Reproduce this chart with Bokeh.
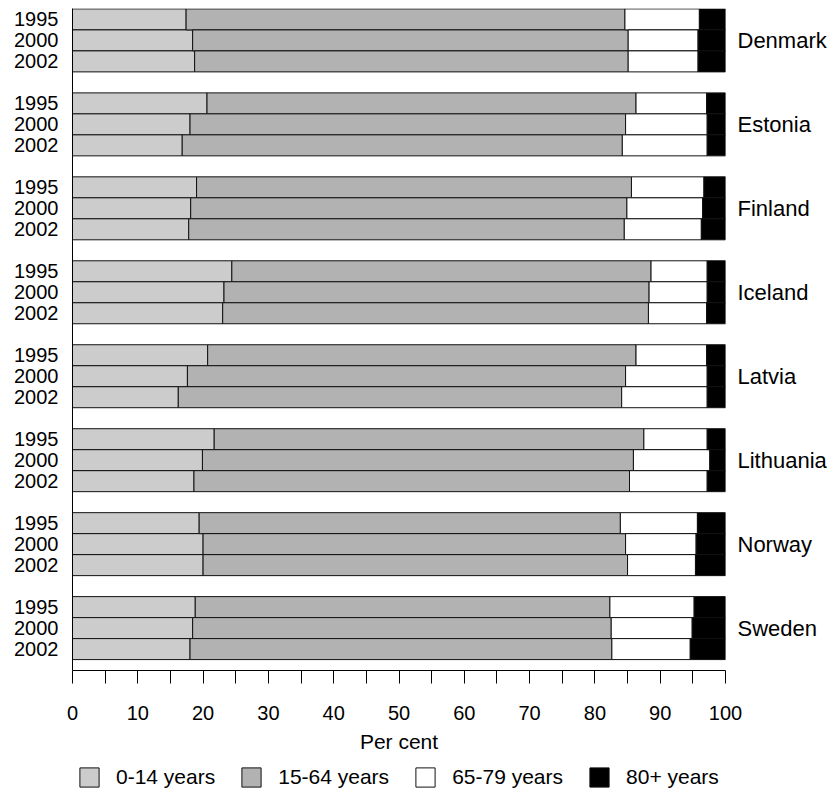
from bokeh.plotting import figure
from bokeh.layouts import column
from bokeh.models import Range1d, LinearAxis, FixedTicker, Legend, LegendItem, ColumnDataSource
from bokeh.embed import file_html
from bokeh.resources import INLINE

countries = ["Denmark", "Estonia", "Finland", "Iceland", "Latvia", "Lithuania", "Norway", "Sweden"]
years = ["1995", "2000", "2002"]
age_groups = ["0-14 years", "15-64 years", "65-79 years", "80+ years"]
colors = ["#cccccc", "#b2b2b2", "#ffffff", "#000000"]

# Per cent of population, ordered country by country, years 1995, 2000, 2002
age_0_14 = [17.4, 18.4, 18.7,
            20.6, 18.0, 16.8,
            19.0, 18.1, 17.8,
            24.4, 23.2, 23.0,
            20.7, 17.6, 16.2,
            21.7, 19.9, 18.6,
            19.4, 20.0, 20.0,
            18.8, 18.4, 18.0]
age_15_64 = [67.2, 66.7, 66.4,
             65.7, 66.7, 67.4,
             66.6, 66.8, 66.7,
             64.2, 65.1, 65.2,
             65.6, 67.1, 67.9,
             65.8, 66.0, 66.7,
             64.5, 64.7, 65.0,
             63.5, 64.1, 64.6]
age_65_79 = [11.4, 10.7, 10.7,
             10.8, 12.5, 13.0,
             11.1, 11.6, 11.8,
             8.6, 8.9, 8.9,
             10.8, 12.5, 13.1,
             9.7, 11.7, 11.9,
             11.8, 10.8, 10.4,
             12.9, 12.4, 12.0]
age_80_plus = [4.0, 4.2, 4.2,
               2.9, 2.8, 2.8,
               3.3, 3.5, 3.7,
               2.8, 2.8, 2.9,
               2.9, 2.8, 2.8,
               2.8, 2.4, 2.8,
               4.3, 4.5, 4.6,
               4.8, 5.1, 5.4]

x_ticks = [0, 10, 20, 30, 40, 50, 60, 70, 80, 90, 100]
x_minor_ticks = [5, 15, 25, 35, 45, 55, 65, 75, 85, 95]

FONT = "Liberation Sans"

# slot positions: 3 bars per country plus one empty slot
ypos = []
year_labels = {}
country_labels = {}
for ci, c in enumerate(countries):
    for yi, yr in enumerate(years):
        pos = ci * 4 + yi
        ypos.append(pos)
        year_labels[pos] = yr
    country_labels[ci * 4 + 1] = c

series = [age_0_14, age_15_64, age_65_79, age_80_plus]
lefts = [0.0] * len(ypos)

p = figure(width=833, height=760,
           x_range=Range1d(0, 100), y_range=Range1d(31.02, -0.52),
           output_backend="svg", toolbar_location=None,
           min_border_left=72, min_border_top=8, min_border_right=108, min_border_bottom=90,
           y_axis_location=None)
p.outline_line_color = None
p.background_fill_color = "white"

sources = []
for vals, col in zip(series, colors):
    rights = [l + v for l, v in zip(lefts, vals)]
    src = ColumnDataSource(dict(y=ypos, left=lefts, right=rights))
    sources.append(src)
    p.hbar(y="y", left="left", right="right", height=1.0, source=src,
           fill_color=col, line_color="#111111", line_width=1)
    lefts = rights

p.grid.visible = False

# bottom axis
xa = p.xaxis[0]
xa.ticker = FixedTicker(ticks=x_ticks, minor_ticks=x_minor_ticks)
xa.axis_label = "Per cent"
xa.axis_label_text_font = FONT
xa.axis_label_text_font_size = "21px"
xa.axis_label_text_font_style = "normal"
xa.axis_label_text_color = "black"
xa.axis_label_standoff = 7
xa.major_label_text_font = FONT
xa.major_label_text_font_size = "20px"
xa.major_label_text_color = "black"
xa.major_label_standoff = 22
xa.major_tick_in = 0
xa.major_tick_out = 13
xa.minor_tick_in = 0
xa.minor_tick_out = 13
xa.axis_line_color = "black"
xa.major_tick_line_color = "black"
xa.minor_tick_line_color = "black"

# left axis with years
yl = LinearAxis(ticker=FixedTicker(ticks=list(year_labels.keys())),
                major_label_overrides=year_labels)
yl.major_tick_line_color = None
yl.minor_tick_line_color = None
yl.major_tick_out = 0
yl.major_tick_in = 0
yl.axis_line_color = "black"
yl.major_label_standoff = 14
yl.major_label_text_font = FONT
yl.major_label_text_font_size = "20px"
yl.major_label_text_color = "black"
p.add_layout(yl, "left")

# right axis with country names
yr_ax = LinearAxis(ticker=FixedTicker(ticks=list(country_labels.keys())),
                   major_label_overrides=country_labels)
yr_ax.major_tick_line_color = None
yr_ax.minor_tick_line_color = None
yr_ax.major_tick_out = 0
yr_ax.major_tick_in = 0
yr_ax.axis_line_color = None
yr_ax.major_label_standoff = 12
yr_ax.major_label_text_font = FONT
yr_ax.major_label_text_font_size = "22px"
yr_ax.major_label_text_color = "black"
p.add_layout(yr_ax, "right")

# legend strip (its bars use the same data but lie outside its visible range)
p2 = figure(width=833, height=31, x_range=Range1d(0, 100), y_range=Range1d(1000, 1001),
            output_backend="svg", toolbar_location=None,
            x_axis_location=None, y_axis_location=None,
            min_border_left=0, min_border_right=0, min_border_top=0, min_border_bottom=0)
p2.outline_line_color = None
p2.grid.visible = False
legend_renderers = []
for src, col in zip(sources, colors):
    r = p2.hbar(y="y", left="left", right="right", height=1.0, source=src,
                fill_color=col, line_color="#111111", line_width=1)
    legend_renderers.append(r)

legend = Legend(items=[LegendItem(label=g, renderers=[r]) for g, r in zip(age_groups, legend_renderers)],
                orientation="horizontal", location=(5, 2),
                glyph_width=24, glyph_height=24, label_standoff=15, spacing=24,
                padding=0, margin=0, border_line_color=None, background_fill_alpha=0,
                label_text_font=FONT, label_text_font_size="21px", label_text_color="black")
p2.add_layout(legend)

layout = column(p, p2, spacing=0)
open("out.html", "w").write(file_html(layout, INLINE))
